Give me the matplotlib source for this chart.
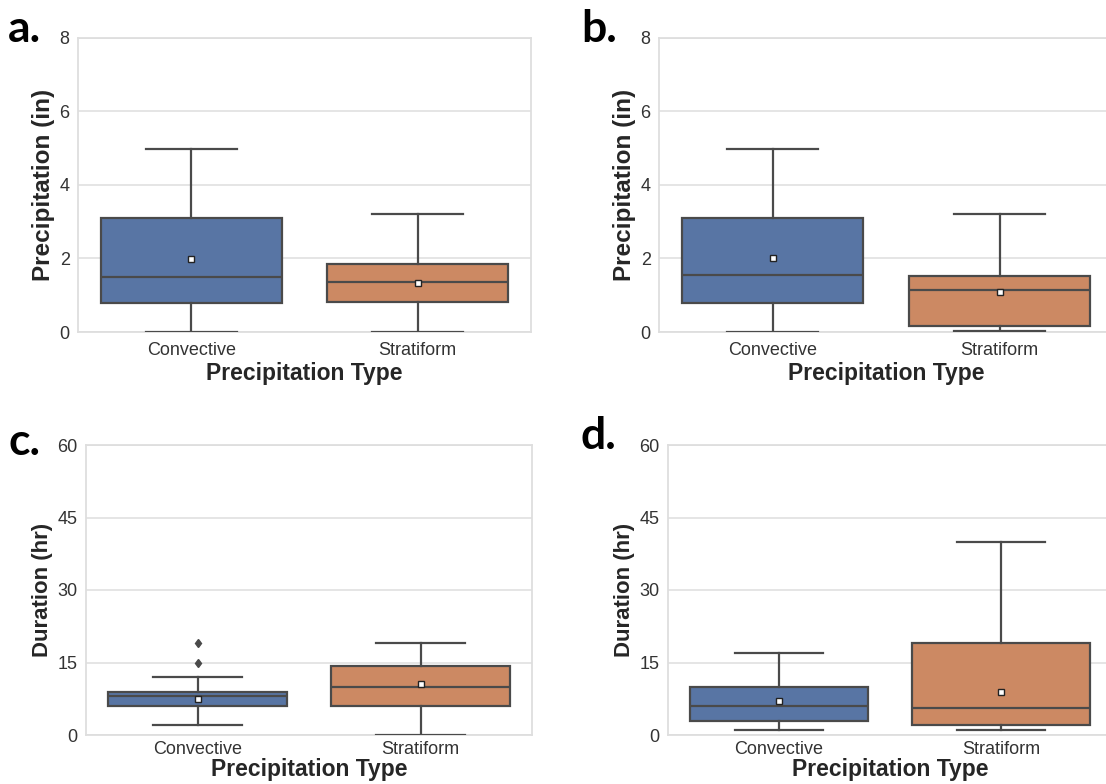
import matplotlib
matplotlib.use("Agg")
import matplotlib.pyplot as plt

plt.rcParams['font.family'] = ['Liberation Sans', 'DejaVu Sans']

categories = ["Convective", "Stratiform"]
colors = ["#5875a4", "#cc8963"]

# box statistics
a_conv = dict(whislo=0.0, q1=0.80, med=1.50, q3=3.10, whishi=4.97, mean=1.97, fliers=[])
a_strat = dict(whislo=0.0, q1=0.82, med=1.37, q3=1.84, whishi=3.20, mean=1.33, fliers=[])
b_conv = dict(whislo=0.0, q1=0.80, med=1.54, q3=3.10, whishi=4.97, mean=2.00, fliers=[])
b_strat = dict(whislo=0.02, q1=0.15, med=1.13, q3=1.52, whishi=3.20, mean=1.09, fliers=[])
c_conv = dict(whislo=2.0, q1=6.0, med=8.0, q3=9.0, whishi=12.0, mean=7.5, fliers=[15.0, 19.0])
c_strat = dict(whislo=0.0, q1=6.0, med=10.0, q3=14.3, whishi=19.0, mean=10.5, fliers=[])
d_conv = dict(whislo=1.0, q1=3.0, med=6.0, q3=10.0, whishi=17.0, mean=7.0, fliers=[])
d_strat = dict(whislo=1.0, q1=2.0, med=5.5, q3=19.0, whishi=40.0, mean=9.0, fliers=[])

precip_ticks = [0, 2, 4, 6, 8]
dur_ticks = [0, 15, 30, 45, 60]

W, H = 1106, 784
fig = plt.figure(figsize=(W / 100, H / 100), dpi=100)
fig.patch.set_facecolor('white')

def px_axes(l, t, r, b):
    return fig.add_axes([l / W, 1 - b / H, (r - l) / W, (b - t) / H])

panels = [
    ("a.", (78, 37.5, 531, 332), [a_conv, a_strat], precip_ticks, "Precipitation (in)", 17.5, (8, 42), 7, 2),
    ("b.", (659, 37.5, 1113, 332), [b_conv, b_strat], precip_ticks, "Precipitation (in)", 17.5, (581, 42), 7, 2),
    ("c.", (86, 445, 532, 735), [c_conv, c_strat], dur_ticks, "Duration (hr)", 16, (8, 455), 4.5, 0),
    ("d.", (668, 445, 1112, 735), [d_conv, d_strat], dur_ticks, "Duration (hr)", 16, (581, 449), 4.5, 0),
]

edge = "#4a4a4a"
for letter, box, stats, ticks, ylabel, yls, lpos, xpad, xlp in panels:
    ax = px_axes(*box)
    ax.set_facecolor('white')
    st = []
    for s, lab in zip(stats, categories):
        d = dict(s)
        d['label'] = lab
        st.append(d)
    bp = ax.bxp(st, positions=[0, 1], widths=0.8, patch_artist=True, showmeans=True,
                showfliers=True,
                boxprops=dict(edgecolor=edge, linewidth=1.6),
                whiskerprops=dict(color=edge, linewidth=1.6),
                capprops=dict(color=edge, linewidth=1.6),
                medianprops=dict(color=edge, linewidth=1.6),
                meanprops=dict(marker='s', markerfacecolor='white', markeredgecolor='#222222',
                               markersize=5, markeredgewidth=1.0),
                flierprops=dict(marker='d', markerfacecolor=edge, markeredgecolor=edge,
                                markersize=4.5))
    for patch, c in zip(bp['boxes'], colors):
        patch.set_facecolor(c)
        patch.set_zorder(2)
    for k in ['whiskers', 'caps', 'medians', 'means', 'fliers']:
        for ln in bp[k]:
            ln.set_zorder(3)
    ax.set_xlim(-0.5, 1.5)
    ax.set_ylim(ticks[0], ticks[-1])
    ax.set_yticks(ticks)
    ax.set_xticks([0, 1])
    ax.set_xticklabels(categories)
    ax.grid(axis='y', color='#e3e3e3', linewidth=1.3, zorder=0)
    ax.grid(axis='x', visible=False)
    ax.set_axisbelow(True)
    for sp in ax.spines.values():
        sp.set_color('#dedede')
        sp.set_linewidth(1.3)
    ax.tick_params(axis='both', length=0, labelsize=13, labelcolor='#333333', pad=6)
    ax.tick_params(axis='x', pad=xpad)
    ax.set_xlabel("Precipitation Type", fontsize=16.5, fontweight='bold', color='#262626', labelpad=xlp)
    ax.set_ylabel(ylabel, fontsize=yls, fontweight='bold', color='#262626', labelpad=3)
    fig.text(lpos[0] / W, 1 - lpos[1] / H, letter, fontsize=32, fontweight='bold',
             family=['Lato', 'DejaVu Sans'], color='black', ha='left', va='baseline')

fig.savefig("out.png", dpi=100, facecolor='white')
